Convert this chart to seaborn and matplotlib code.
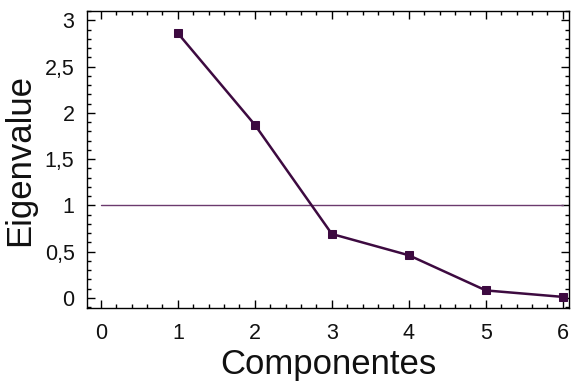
import matplotlib
matplotlib.use('Agg')
import matplotlib.pyplot as plt
import seaborn as sns
import pandas as pd
from matplotlib.ticker import MultipleLocator, FuncFormatter

componentes = [1, 2, 3, 4, 5, 6]
eigenvalues = [2.86, 1.87, 0.69, 0.46, 0.08, 0.01]
ref_x = [0, 6]
ref_y = [1, 1]

sns.set_theme(style="ticks")
plt.rcParams['font.family'] = ['Liberation Sans', 'DejaVu Sans']

df = pd.DataFrame({'Componentes': componentes, 'Eigenvalue': eigenvalues})

fig = plt.figure(figsize=(5.77, 3.89), dpi=100)
ax = fig.add_axes([87 / 577, 1 - 308 / 389, (569 - 87) / 577, (308 - 11) / 389])

# reference line at eigenvalue = 1
ax.plot(ref_x, ref_y, color='#6b3a6e', lw=1.0)
sns.lineplot(data=df, x='Componentes', y='Eigenvalue', ax=ax, color='#3d0a40',
             lw=1.8, marker='s', markersize=6, markeredgecolor='#3d0a40')

ax.set_xlim(-0.18, 6.08)
ax.set_ylim(-0.11, 3.1)
ax.xaxis.set_major_locator(MultipleLocator(1))
ax.xaxis.set_minor_locator(MultipleLocator(0.2))
ax.yaxis.set_major_locator(MultipleLocator(0.5))
ax.yaxis.set_minor_locator(MultipleLocator(0.1))
ax.yaxis.set_major_formatter(FuncFormatter(lambda v, p: f"{v:g}".replace('.', ',')))

ax.tick_params(which='both', direction='in', top=True, right=True, color='black', width=1)
ax.tick_params(which='major', length=6, labelsize=15.5, pad=9, labelcolor='#111111')
ax.tick_params(axis='x', which='major', pad=11)
ax.tick_params(which='minor', length=3)
for s in ax.spines.values():
    s.set_color('black')
    s.set_linewidth(1)

ax.set_xlabel('Componentes', fontsize=25, labelpad=3, color='#111111')
ax.set_ylabel('Eigenvalue', fontsize=25, labelpad=6, color='#111111')

fig.savefig('out.png', dpi=100)
